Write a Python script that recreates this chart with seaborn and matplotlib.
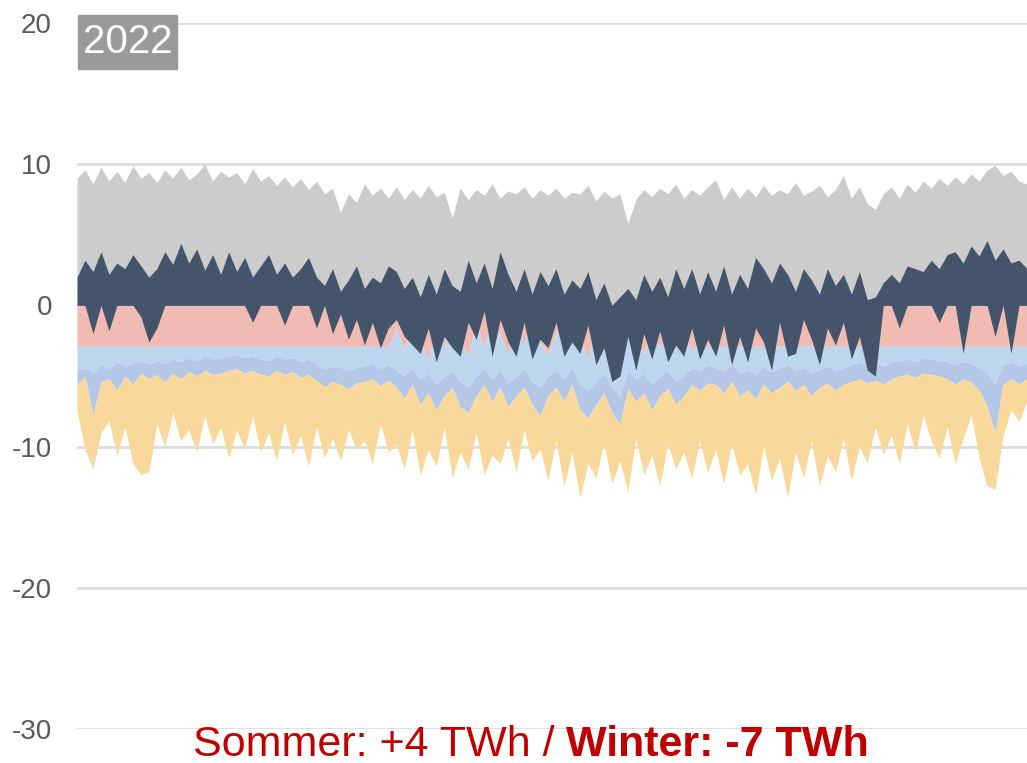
import numpy as np
import matplotlib
matplotlib.use("Agg")
import matplotlib.pyplot as plt
import seaborn as sns
from matplotlib.patches import Rectangle

# Werte alle ~3 Tage
grau_oben = [9.0, 9.6, 8.6, 9.8, 8.8, 9.5, 8.7, 9.9, 9.0, 9.4,
             8.7, 9.6, 9.0, 9.8, 8.9, 9.3, 10.0, 8.8, 9.5, 9.1,
             9.4, 8.6, 9.7, 8.8, 9.2, 8.5, 9.1, 8.4, 9.0, 8.2,
             8.8, 7.9, 8.3, 6.6, 7.9, 7.3, 8.6, 7.8, 8.3, 7.6,
             8.4, 7.5, 8.2, 7.6, 8.5, 7.7, 8.0, 6.2, 8.3, 7.5,
             8.2, 7.8, 8.6, 7.6, 8.1, 7.9, 8.4, 7.6, 8.2, 7.8,
             8.3, 7.6, 8.0, 7.9, 8.5, 7.4, 8.1, 7.6, 7.9, 5.8,
             7.5, 8.2, 7.7, 8.3, 7.9, 8.6, 7.6, 8.2, 7.8, 8.4,
             8.9, 7.5, 8.4, 7.6, 8.3, 7.7, 8.5, 7.8, 8.2, 7.9,
             8.7, 7.8, 8.1, 8.5, 7.7, 8.2, 9.2, 7.6, 8.4, 7.2,
             6.8, 7.9, 8.4, 7.6, 8.6, 8.0, 8.8, 8.3, 9.0, 8.5,
             9.1, 8.6, 9.3, 8.8, 9.6, 9.9, 9.2, 9.5, 8.8, 8.6]

saldo_max = [2.0, 3.2, 2.4, 3.8, 2.2, 3.0, 2.6, 3.6, 2.8, 2.0,
             2.6, 3.8, 2.9, 4.4, 3.0, 4.0, 2.5, 3.6, 2.2, 3.8,
             2.4, 3.4, 2.0, 2.8, 3.6, 2.2, 3.0, 2.0, 2.6, 3.4,
             2.0, 1.4, 2.6, 1.0, 1.8, 2.8, 1.2, 2.0, 1.6, 2.8,
             2.4, 1.2, 2.0, 0.6, 2.2, 0.8, 2.6, 1.4, 1.0, 3.2,
             1.6, 3.0, 1.2, 3.8, 2.2, 1.0, 2.6, 0.8, 2.4, 1.4,
             2.6, 0.8, 1.8, 1.2, 2.4, 0.4, 1.6, 0.0, 0.6, 1.2,
             0.4, 2.2, 1.0, 2.0, 0.6, 2.6, 1.2, 2.6, 0.8, 2.4,
             1.0, 2.8, 0.8, 2.2, 1.2, 3.4, 2.6, 1.6, 3.0, 2.2,
             1.0, 2.6, 1.8, 0.8, 2.6, 1.4, 2.2, 0.8, 2.4, 0.4,
             0.6, 1.6, 2.2, 1.6, 2.8, 2.6, 2.4, 3.2, 2.6, 3.6,
             3.8, 3.0, 4.2, 3.5, 4.6, 3.2, 4.0, 3.0, 3.2, 2.6]

saldo_min = [0.0, 0.0, -2.0, 0.0, -1.8, 0.0, 0.0, 0.0, -0.8, -2.6,
             -1.6, 0.0, 0.0, 0.0, 0.0, 0.0, 0.0, 0.0, 0.0, 0.0,
             0.0, 0.0, -1.2, 0.0, 0.0, 0.0, -1.4, 0.0, 0.0, 0.0,
             -1.6, 0.0, -2.0, -0.6, -2.4, -1.0, -2.8, -1.2, -3.0, -1.6,
             -1.0, -2.2, -2.8, -3.4, -1.6, -4.0, -2.2, -3.0, -3.6, -1.2,
             -2.4, -0.4, -3.6, -1.0, -2.6, -3.6, -1.2, -3.8, -2.4, -3.0,
             -1.2, -3.6, -2.6, -3.4, -1.4, -4.2, -3.0, -5.4, -5.0, -2.2,
             -4.6, -2.0, -3.8, -1.8, -4.0, -2.8, -3.6, -1.6, -3.8, -2.4,
             -3.6, -1.4, -4.2, -2.2, -4.0, -1.6, -2.6, -4.6, -1.2, -3.6,
             -3.4, -1.0, -2.4, -4.2, -1.6, -2.8, -1.2, -3.8, -2.2, -4.6,
             -5.0, 0.0, 0.0, -1.6, 0.0, 0.0, 0.0, 0.0, -1.2, 0.0,
             0.0, -3.4, 0.0, 0.0, 0.0, -2.2, 0.0, -3.4, 0.0, 0.0]

blau_oben = [-2.9] * 39 + [
    -2.9, -1.6, -3.2, -0.8, -2.6, -3.8, -1.4, -3.0, -0.7, -2.4, -3.6,
    -1.2, -3.0, -0.6, -2.2, -3.4, -1.0, -2.8, -0.5, -2.6, -3.5,
    -1.8, -3.0, -0.9, -2.5, -3.8, -1.4, -3.2, -1.9, -3.6, -0.8,
    -2.6, -3.4, -1.8, -3.0, -2.0, -3.2, -2.4, -3.0, -2.9, -2.9] + [-2.9] * 40

blau_unten = [-4.6, -4.4, -4.8, -4.2, -4.5, -4.0, -4.3, -4.1, -3.9, -4.2,
              -3.9, -4.1, -3.8, -4.0, -3.7, -3.9, -3.6, -3.8, -3.7, -3.6,
              -3.5, -3.7, -3.6, -3.8, -3.9, -3.6, -3.8, -3.7, -4.0, -3.8,
              -4.2, -4.5, -4.3, -4.4, -4.6, -4.4, -4.3, -4.1, -4.5, -4.2,
              -4.6, -5.0, -4.4, -5.2, -4.8, -5.6, -5.0, -4.6, -5.4, -5.8,
              -5.0, -4.4, -5.2, -4.6, -5.5, -5.0, -4.5, -5.4, -5.8, -5.0,
              -4.6, -5.2, -4.4, -5.6, -6.0, -5.4, -4.8, -5.8, -6.4, -4.6,
              -5.2, -4.8, -5.6, -5.0, -4.6, -5.4, -5.0, -4.4, -4.6, -4.2,
              -4.4, -4.6, -4.2, -4.8, -4.6, -4.9, -4.3, -4.7, -4.4, -4.2,
              -4.6, -4.4, -4.8, -4.5, -4.3, -4.6, -4.4, -4.2, -4.0, -4.3,
              -4.1, -4.3, -4.0, -3.9, -3.8, -4.0, -3.7, -3.8, -3.9, -4.0,
              -4.2, -4.0, -4.1, -4.4, -4.8, -5.6, -4.2, -4.0, -4.3, -4.1]

gelb_oben = [-5.6, -5.0, -7.8, -5.4, -5.2, -6.0, -5.0, -5.6, -4.8, -5.2,
             -4.9, -5.4, -4.8, -5.2, -4.7, -5.0, -4.6, -4.9, -4.8, -4.6,
             -4.5, -4.8, -4.6, -4.9, -5.0, -4.6, -4.9, -4.7, -5.1, -4.9,
             -5.3, -5.8, -5.4, -5.6, -5.9, -5.5, -5.4, -5.2, -5.7, -5.3,
             -5.8, -6.6, -5.6, -7.0, -6.2, -7.4, -6.4, -5.8, -7.2, -7.6,
             -6.4, -5.6, -6.8, -5.8, -7.2, -6.4, -5.8, -7.0, -7.8, -6.4,
             -5.8, -6.8, -5.6, -7.4, -8.0, -7.0, -6.2, -7.6, -8.4, -5.9,
             -6.8, -6.2, -7.4, -6.4, -5.9, -7.0, -6.4, -5.6, -6.0, -5.5,
             -5.6, -6.2, -5.4, -6.4, -6.0, -6.6, -5.6, -6.2, -5.8, -5.4,
             -6.0, -5.6, -6.4, -5.8, -5.5, -6.0, -5.6, -5.4, -5.2, -5.5,
             -5.3, -5.6, -5.2, -5.0, -4.9, -5.1, -4.8, -4.9, -5.0, -5.2,
             -5.6, -5.2, -5.4, -6.0, -7.2, -9.0, -5.6, -5.2, -5.6, -5.2]

gelb_unten = [-7.5, -10.2, -11.6, -9.0, -8.2, -10.6, -8.6, -11.2, -12.0, -11.8,
              -8.4, -10.0, -7.6, -9.6, -8.8, -10.4, -7.8, -9.8, -8.6, -10.8,
              -8.8, -10.2, -7.8, -10.4, -9.0, -11.0, -8.2, -10.6, -9.2, -11.4,
              -8.6, -10.8, -9.4, -11.0, -8.8, -10.2, -9.6, -11.2, -8.4, -10.4,
              -9.8, -11.6, -8.8, -12.0, -10.2, -11.4, -8.6, -12.2, -10.4, -11.6,
              -9.0, -12.0, -10.6, -11.2, -9.4, -11.8, -8.8, -11.0, -10.2, -12.4,
              -9.6, -12.8, -10.4, -13.6, -11.2, -12.2, -9.8, -12.6, -11.0, -13.2,
              -9.4, -12.0, -10.6, -12.8, -9.8, -11.6, -10.4, -12.2, -9.6, -11.8,
              -10.2, -12.6, -9.8, -12.0, -11.2, -13.4, -10.0, -12.4, -10.8, -13.6,
              -10.4, -12.2, -9.6, -12.8, -10.6, -11.8, -9.4, -12.4, -10.0, -11.2,
              -8.6, -10.6, -9.2, -11.2, -8.4, -10.4, -7.8, -9.6, -10.8, -8.6,
              -11.2, -9.4, -7.8, -10.8, -12.8, -13.0, -9.2, -7.4, -8.2, -6.8]

y_ticks = [20, 10, 0, -10, -20, -30]
jahr = "2022"
text_sommer = "Sommer: +4 TWh / "
text_winter = "Winter: -7 TWh"

tage = np.linspace(0, 365, len(saldo_max))

sns.set_theme(style="white")
plt.rcParams['font.family'] = ['Liberation Sans', 'DejaVu Sans']

fig = plt.figure(figsize=(10.27, 7.63), dpi=100)
ax = fig.add_axes([77 / 1027, 34 / 763, 950 / 1027, 706 / 763])

grau = "#cccccc"
navy = "#44546a"
rosa = "#f0bbb3"
hellblau = "#bdd7ee"
lavendel = "#b4c7e7"
gelb = "#f8d99b"

ax.fill_between(tage, 0, grau_oben, color=grau, lw=0)
ax.fill_between(tage, blau_oben, 0, color=rosa, lw=0)
ax.fill_between(tage, blau_unten, blau_oben, color=hellblau, lw=0)
ax.fill_between(tage, gelb_oben, blau_unten, color=lavendel, lw=0)
ax.fill_between(tage, gelb_unten, gelb_oben, color=gelb, lw=0)
ax.fill_between(tage, saldo_min, saldo_max, color=navy, lw=0)

ax.set_xlim(0, 365)
ax.set_ylim(-30, 20)
ax.set_yticks(y_ticks)
ax.set_yticklabels([str(t) for t in y_ticks])
ax.set_xticks([])
ax.tick_params(axis='y', length=0, pad=18, labelsize=20, labelcolor="#595959")
for yt in y_ticks:
    ax.axhline(yt, color="#dcdcdc", lw=2, zorder=0.5)
for s in ax.spines.values():
    s.set_visible(False)
ax.set_facecolor("none")

fig.patches.append(Rectangle((78 / 1027, 694 / 763), 99 / 1027, 54 / 763,
                             transform=fig.transFigure, color="#9a9a9a", zorder=5))
fig.text(127.5 / 1027, 721 / 763, jahr, color="white", fontsize=29,
         ha="center", va="center", zorder=6)

# Untertitel: normaler und fetter Teil nebeneinander, zentriert
t1 = fig.text(0.0, 18 / 763, text_sommer, color="#c00000", fontsize=31,
              ha="left", va="center")
t2 = fig.text(0.0, 18 / 763, text_winter, color="#c00000", fontsize=31,
              fontweight="bold", ha="left", va="center")
fig.canvas.draw()
r = fig.canvas.get_renderer()
w1 = t1.get_window_extent(r).width
w2 = t2.get_window_extent(r).width
start = 531 - (w1 + w2) / 2
t1.set_x(start / 1027)
t2.set_x((start + w1) / 1027)

fig.savefig("out.png", dpi=100)
